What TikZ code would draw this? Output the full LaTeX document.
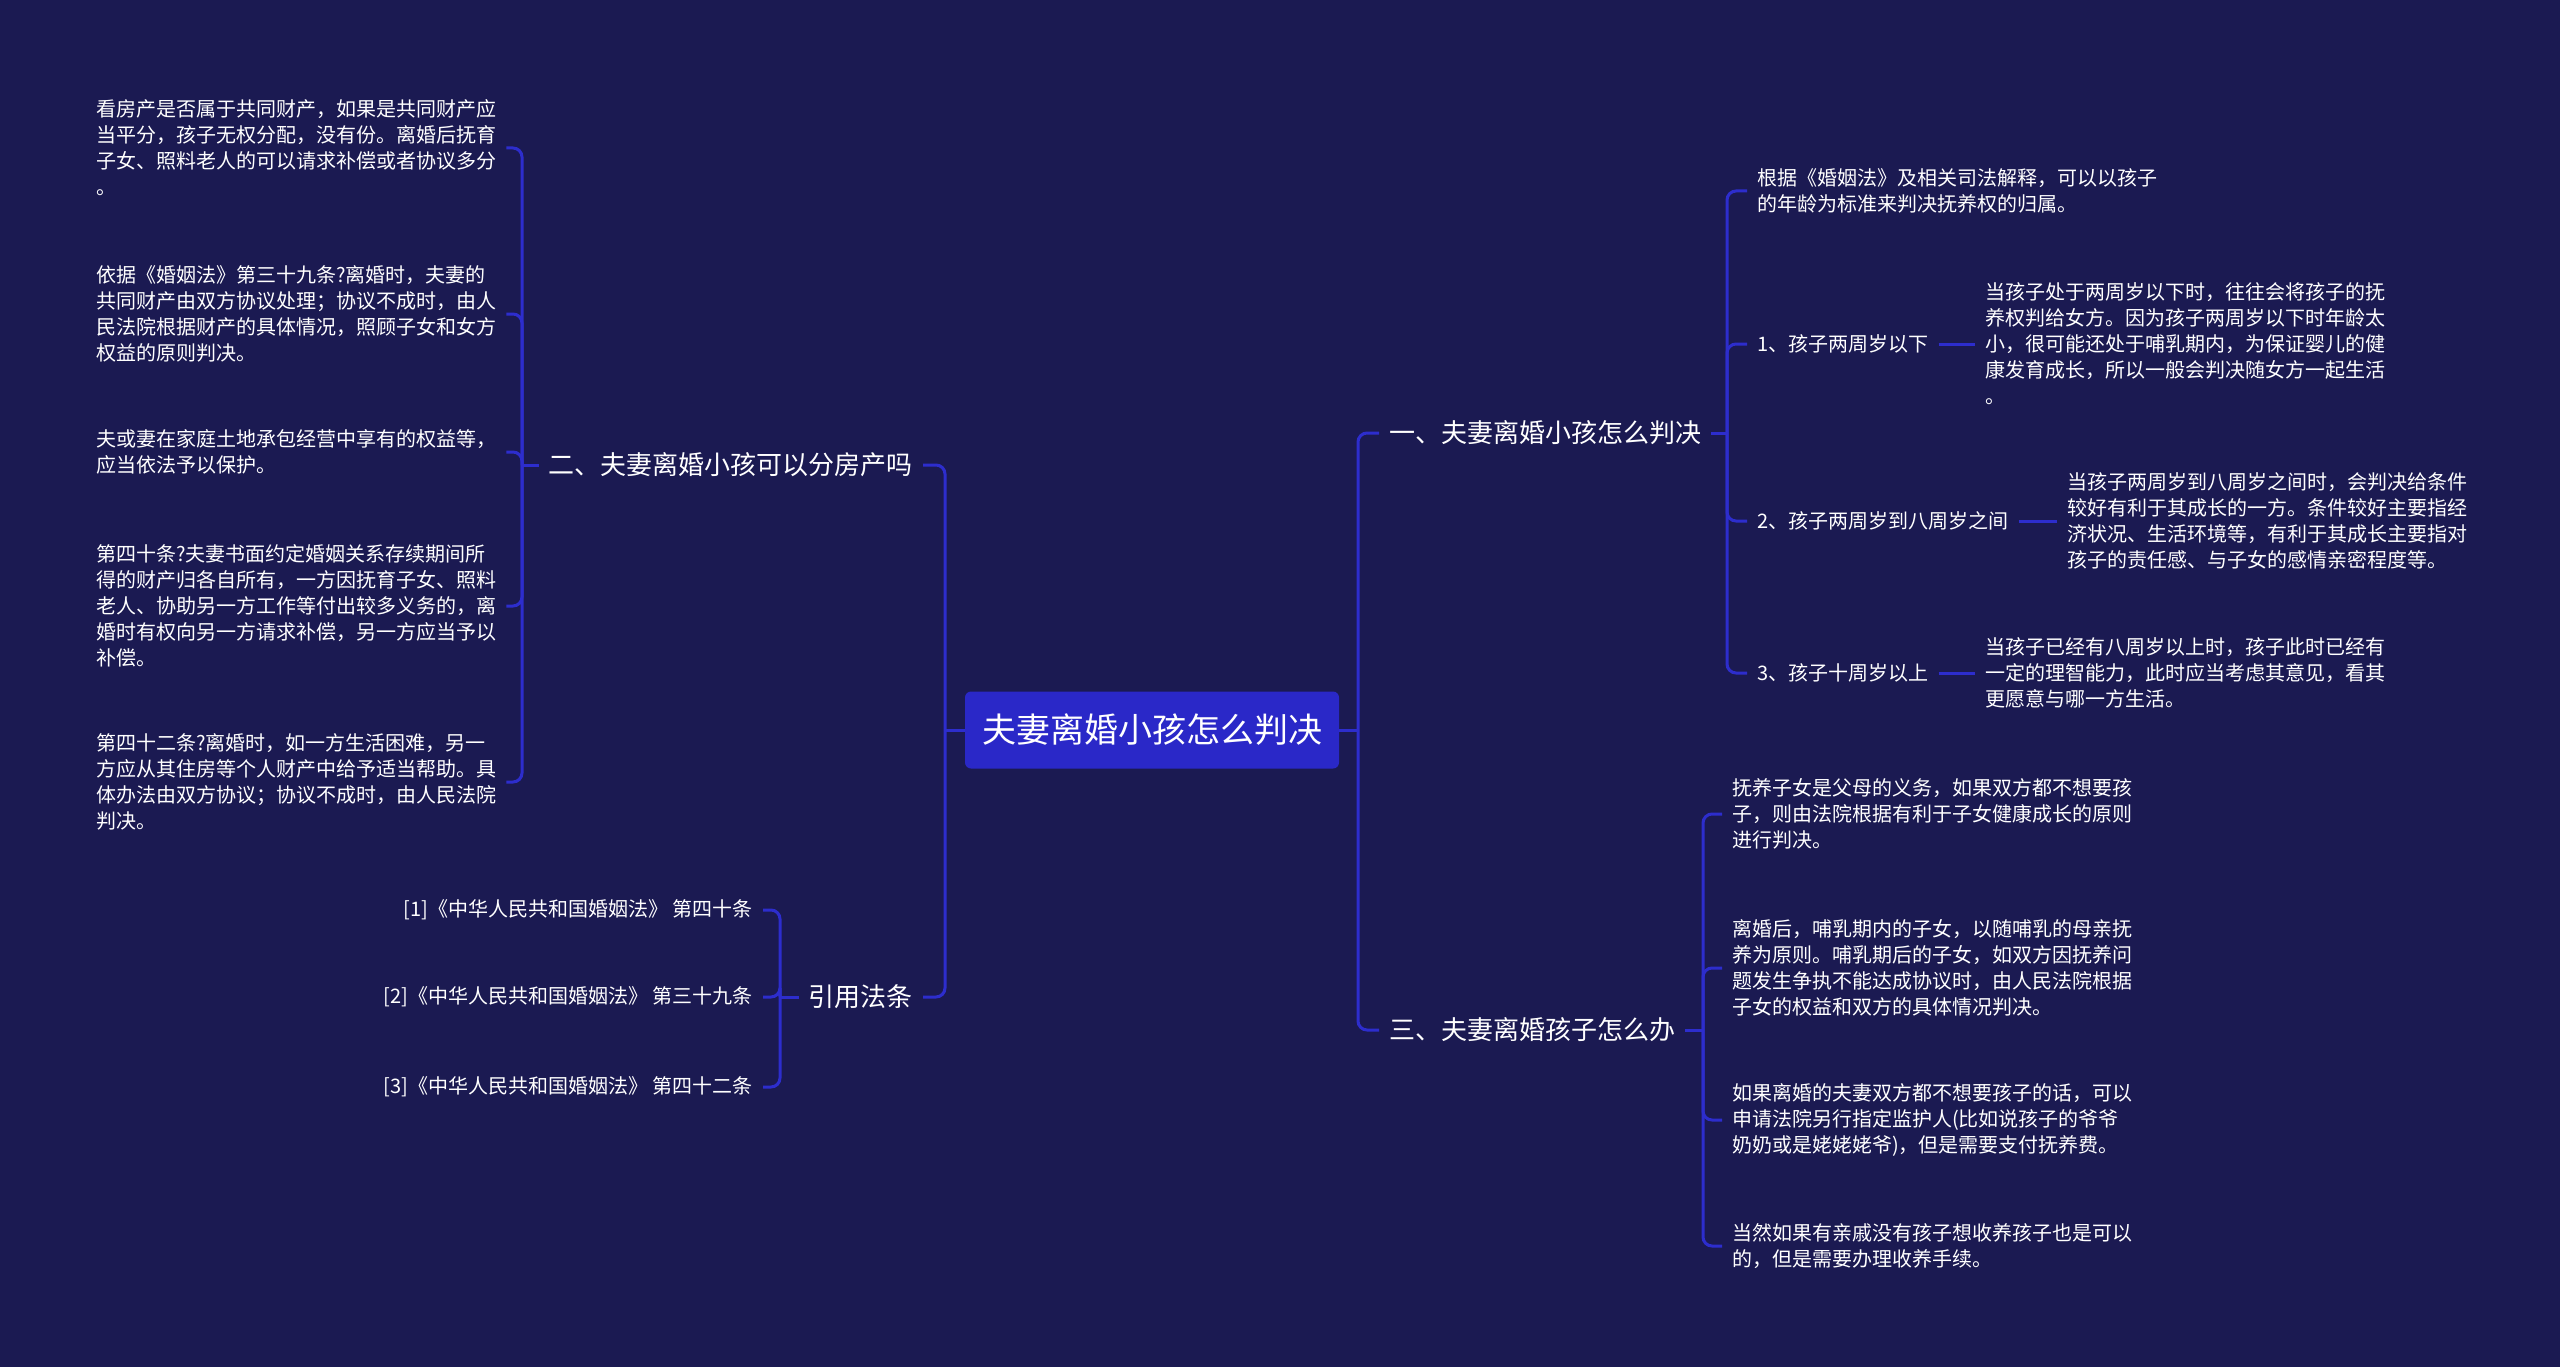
\documentclass[tikz,border=0pt]{standalone}
\usepackage{fontspec}
\setmainfont{Noto Sans CJK SC}
\usepackage{tikz}
\usetikzlibrary{positioning}
\definecolor{Fondo}{RGB}{27,26,82}
\definecolor{Azul}{RGB}{42,40,200}
\definecolor{Linea}{RGB}{45,45,205}

\begin{document}
\begin{tikzpicture}[x=1pt, y=-1pt,
        root/.style={rectangle, rounded corners=6pt, fill=Azul, text=white, minimum width=374pt, minimum height=77pt, font=\fontsize{34}{40}\selectfont},
        topic/.style={rectangle, inner xsep=10pt, inner ysep=2pt, text=white, font=\fontsize{26}{32}\selectfont},
        leaf/.style={rectangle, inner xsep=10pt, inner ysep=2pt, text=white, align=left, font=\fontsize{20}{26}\selectfont},
        link/.style={draw=Linea, line width=3pt, rounded corners=9pt}
    ]%
        % ================= FONDO =================
        \fill[Fondo] (0,0) rectangle (2560,1367);
        \useasboundingbox (0,0) rectangle (2560,1367);
        % ================= NODO CENTRAL =================
        \node[root] (root) at (1152,730) {夫妻离婚小孩怎么判决};
        \coordinate (sl) at (945,730);
        \coordinate (sr) at (1358,730);
        % ================= RAMA DERECHA: TEMAS =================
        \node[topic, anchor=west] (h1) at (1379,433) {一、夫妻离婚小孩怎么判决};
        \node[topic, anchor=west] (h3) at (1379,1030) {三、夫妻离婚孩子怎么办};
        \coordinate (s1) at (1727,433);
        \coordinate (s3) at (1703,1030);
        % hijos del tema uno
        \node[leaf, anchor=west] (c1) at (1747,191) {根据《婚姻法》及相关司法解释，可以以孩子\\的年龄为标准来判决抚养权的归属。};
        \node[leaf, anchor=west] (c2) at (1747,344) {1、孩子两周岁以下};
        \node[leaf, anchor=west] (c3) at (1747,521) {2、孩子两周岁到八周岁之间};
        \node[leaf, anchor=west] (c4) at (1747,673) {3、孩子十周岁以上};
        \node[leaf, anchor=west] (d2) at (1975,344) {当孩子处于两周岁以下时，往往会将孩子的抚\\养权判给女方。因为孩子两周岁以下时年龄太\\小，很可能还处于哺乳期内，为保证婴儿的健\\康发育成长，所以一般会判决随女方一起生活\\。};
        \node[leaf, anchor=west] (d3) at (2057,521) {当孩子两周岁到八周岁之间时，会判决给条件\\较好有利于其成长的一方。条件较好主要指经\\济状况、生活环境等，有利于其成长主要指对\\孩子的责任感、与子女的感情亲密程度等。};
        \node[leaf, anchor=west] (d4) at (1975,673) {当孩子已经有八周岁以上时，孩子此时已经有\\一定的理智能力，此时应当考虑其意见，看其\\更愿意与哪一方生活。};
        % hijos del tema tres
        \node[leaf, anchor=west] (e1) at (1722,814) {抚养子女是父母的义务，如果双方都不想要孩\\子，则由法院根据有利于子女健康成长的原则\\进行判决。};
        \node[leaf, anchor=west] (e2) at (1722,968) {离婚后，哺乳期内的子女，以随哺乳的母亲抚\\养为原则。哺乳期后的子女，如双方因抚养问\\题发生争执不能达成协议时，由人民法院根据\\子女的权益和双方的具体情况判决。};
        \node[leaf, anchor=west] (e3) at (1722,1120) {如果离婚的夫妻双方都不想要孩子的话，可以\\申请法院另行指定监护人(比如说孩子的爷爷\\奶奶或是姥姥姥爷)，但是需要支付抚养费。};
        \node[leaf, anchor=west] (e4) at (1722,1246) {当然如果有亲戚没有孩子想收养孩子也是可以\\的，但是需要办理收养手续。};
        % ================= RAMA IZQUIERDA: TEMAS =================
        \node[topic, anchor=east] (h2) at (923,465) {二、夫妻离婚小孩可以分房产吗};
        \node[topic, anchor=east] (h4) at (923,997) {引用法条};
        \coordinate (s2) at (522,465);
        \coordinate (s4) at (780,997);
        % hijos del tema dos
        \node[leaf, anchor=west] (b1) at (86,148) {看房产是否属于共同财产，如果是共同财产应\\当平分，孩子无权分配，没有份。离婚后抚育\\子女、照料老人的可以请求补偿或者协议多分\\。};
        \node[leaf, anchor=west] (b2) at (86,314) {依据《婚姻法》第三十九条?离婚时，夫妻的\\共同财产由双方协议处理；协议不成时，由人\\民法院根据财产的具体情况，照顾子女和女方\\权益的原则判决。};
        \node[leaf, anchor=west] (b3) at (86,452) {夫或妻在家庭土地承包经营中享有的权益等，\\应当依法予以保护。};
        \node[leaf, anchor=west] (b4) at (86,606) {第四十条?夫妻书面约定婚姻关系存续期间所\\得的财产归各自所有，一方因抚育子女、照料\\老人、协助另一方工作等付出较多义务的，离\\婚时有权向另一方请求补偿，另一方应当予以\\补偿。};
        \node[leaf, anchor=west] (b5) at (86,782) {第四十二条?离婚时，如一方生活困难，另一\\方应从其住房等个人财产中给予适当帮助。具\\体办法由双方协议；协议不成时，由人民法院\\判决。};
        % citas
        \node[leaf, anchor=east, align=right] (r1) at (763,910) {[1]《中华人民共和国婚姻法》 第四十条};
        \node[leaf, anchor=east, align=right] (r2) at (763,997) {[2]《中华人民共和国婚姻法》 第三十九条};
        \node[leaf, anchor=east, align=right] (r3) at (763,1087) {[3]《中华人民共和国婚姻法》 第四十二条};
        % ================= CONEXIONES =================
        \draw[link] (root.east) -- (sr);
        \draw[link] (sr) |- (h1.west);
        \draw[link] (sr) |- (h3.west);
        \draw[link] (root.west) -- (sl);
        \draw[link] (sl) |- (h2.east);
        \draw[link] (sl) |- (h4.east);
        % tema uno
        \draw[link] (h1.east) -- (s1);
        \foreach \n in {c1,c2,c3,c4}
            \draw[link] (s1) |- (\n.west);
        \draw[link] (c2.east) -- (d2.west);
        \draw[link] (c3.east) -- (d3.west);
        \draw[link] (c4.east) -- (d4.west);
        % tema tres
        \draw[link] (h3.east) -- (s3);
        \foreach \n in {e1,e2,e3,e4}
            \draw[link] (s3) |- (\n.west);
        % tema dos
        \draw[link] (h2.west) -- (s2);
        \foreach \n in {b1,b2,b3,b4,b5}
            \draw[link] (s2) |- (\n.east);
        % citas
        \draw[link] (h4.west) -- (s4);
        \foreach \n in {r1,r2,r3}
            \draw[link] (s4) |- (\n.east);
    \end{tikzpicture}
\end{document}
